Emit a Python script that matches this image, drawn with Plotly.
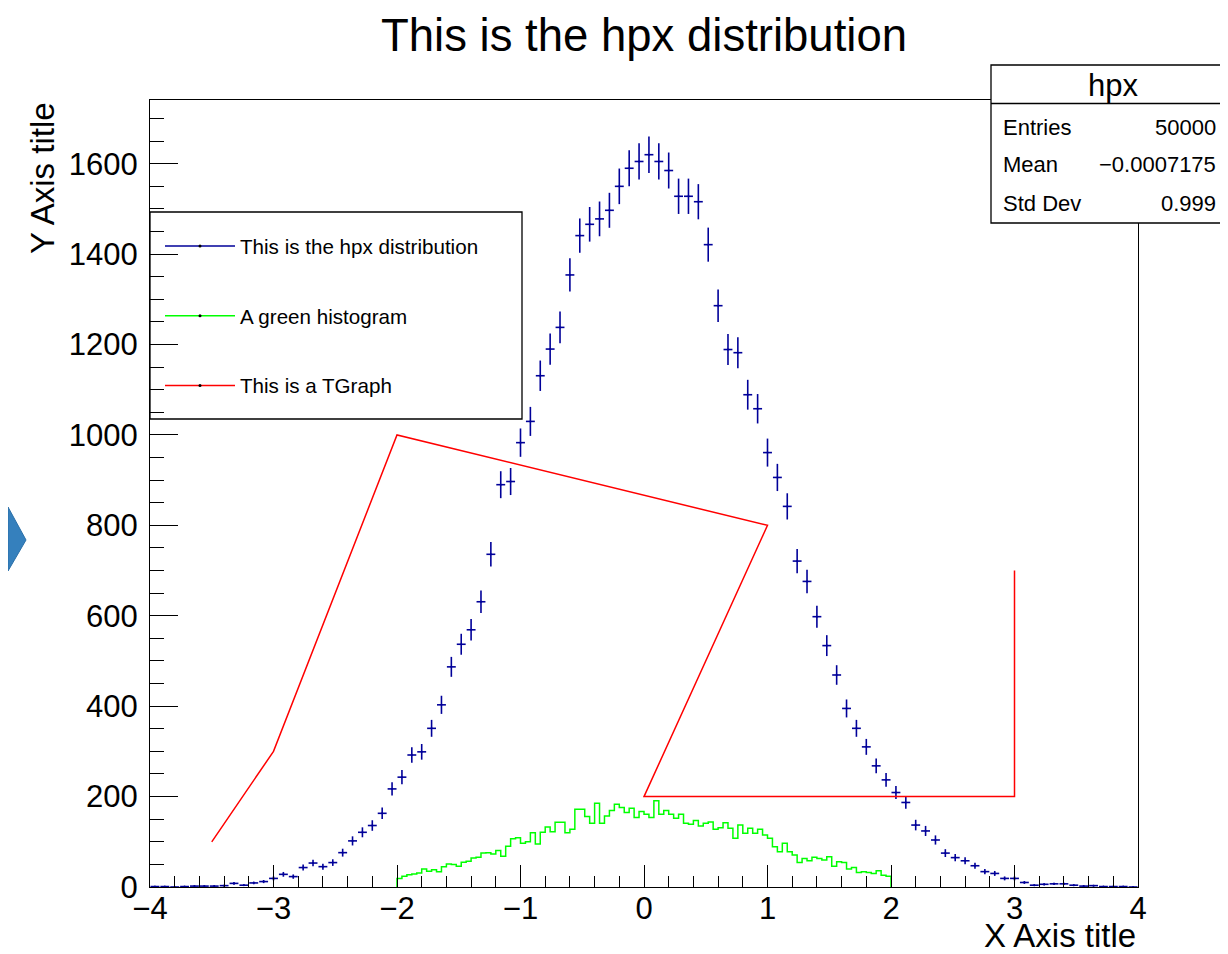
import numpy as np
import plotly.graph_objects as go

# ---------------- data ----------------
hpx_nbins = 100
hpx_xmin, hpx_xmax = -4.0, 4.0
hpx_counts = [
    1, 1, 0, 1, 2, 2, 2, 3,
    8, 4, 9, 12, 19, 28, 23,
    43, 53, 45, 54, 76, 102, 121, 136, 163, 217, 243,
    292, 299, 351, 403, 487, 537, 569, 631, 736, 890, 897, 983, 1030,
    1131, 1190, 1238, 1354, 1441, 1466, 1478, 1497, 1550, 1590, 1605, 1620, 1605, 1585, 1528, 1528, 1516, 1421, 1286, 1189,
    1182, 1089, 1058, 961, 906, 842, 721, 676, 598, 534, 469,
    395, 351, 310, 268, 237, 209, 187, 137, 124, 104, 75, 65, 58, 47, 34,
    30, 19, 19, 10, 4, 6, 7, 7, 4, 2, 3, 1, 1, 1, 0,
]

green_nbins = 100
green_xmin, green_xmax = -2.0, 2.0
green_counts = [
    19, 24, 27, 29, 31, 40, 35, 38, 34, 45,
    51, 50, 46, 55, 57, 64, 66, 75, 76, 73,
    81, 68, 90, 107, 109, 97, 100, 120, 95, 121,
    133, 122, 143, 143, 120, 128, 172, 172, 156, 141,
    185, 141, 157, 169, 183, 176, 165, 174, 154, 167,
    161, 154, 191, 161, 169, 161, 152, 161, 141, 139,
    147, 135, 141, 144, 128, 131, 142, 130, 108, 137,
    119, 130, 119, 128, 115, 108, 89, 78, 97, 78,
    71, 54, 63, 58, 66, 63, 60, 67, 46, 56,
    54, 40, 43, 32, 34, 32, 30, 36, 26, 24,
]

graph_x = [-3.5, -3.0, -2.0, 1.0, 0.0, 3.0, 3.0]
graph_y = [100, 300, 1000, 800, 200, 200, 700]

legend_labels = ["This is the hpx distribution", "A green histogram", "This is a TGraph"]
chart_title = "This is the hpx distribution"
x_title = "X Axis title"
y_title = "Y Axis title"

stats_title = "hpx"
stats_names = ["Entries", "Mean", "Std Dev"]
stats_values = ["50000", "\u22120.0007175", "0.999"]

x_tickvals = [-4, -3, -2, -1, 0, 1, 2, 3, 4]
y_tickvals = [0, 200, 400, 600, 800, 1000, 1200, 1400, 1600]

# ---------------- styles ----------------
FONT = "Liberation Sans, Arial, Helvetica, sans-serif"
C_HPX = "#000099"
C_GREEN = "#00ff00"
C_RED = "#ff0000"

OFF = 8  # page body margin
W, H = 1220, 946
ML, MT = 150 - OFF, 100 - OFF
PW, PH = 988, 787
MR = W - ML - PW
MB = H - MT - PH


def px(x):
    # picture pixel x -> paper
    return (x - OFF - ML) / PW


def py(y):
    # picture pixel y -> paper
    return (MT + PH - (y - OFF)) / PH


# derived histogram geometry
hpx_bw = (hpx_xmax - hpx_xmin) / hpx_nbins
hpx_centers = hpx_xmin + hpx_bw * (np.arange(hpx_nbins) + 0.5)
hpx_arr = np.array(hpx_counts, dtype=float)
hpx_err = np.sqrt(hpx_arr)

g_bw = (green_xmax - green_xmin) / green_nbins
g_edges = green_xmin + g_bw * np.arange(green_nbins + 1)
g_vals = np.array(green_counts, dtype=float)
step_x = np.concatenate([[green_xmin], g_edges[:-1], [green_xmax, green_xmax]])
step_y = np.concatenate([[0.0], g_vals, [g_vals[-1], 0.0]])

fig = go.Figure()

fig.add_trace(go.Scatter(
    x=hpx_centers, y=hpx_arr, mode="markers",
    marker=dict(color=C_HPX, size=2),
    error_y=dict(type="data", array=hpx_err, visible=True, color=C_HPX, thickness=1.6, width=0),
    error_x=dict(type="constant", value=hpx_bw * 0.45, visible=True, color=C_HPX, thickness=1.6, width=0),
    showlegend=False, hoverinfo="x+y",
))

fig.add_trace(go.Scatter(
    x=step_x, y=step_y, mode="lines", line=dict(color=C_GREEN, width=1.5, shape="hv"),
    showlegend=False,
))

fig.add_trace(go.Scatter(
    x=graph_x, y=graph_y, mode="lines", line=dict(color=C_RED, width=1.5),
    showlegend=False,
))

# legend entries
for i, (lab, col) in enumerate(zip(legend_labels, [C_HPX, C_GREEN, C_RED])):
    fig.add_trace(go.Scatter(
        x=[None], y=[None], mode="lines+markers", name=lab,
        line=dict(color=col, width=1.5),
        marker=dict(color="black", size=3),
        legendgroup=f"g{i}", showlegend=True,
    ))

shapes = []
# legend box
shapes.append(dict(type="rect", xref="paper", yref="paper",
                   x0=px(150), x1=px(522), y0=py(419), y1=py(212),
                   line=dict(color="black", width=1.3), fillcolor="white", layer="below"))
# stats box
shapes.append(dict(type="rect", xref="paper", yref="paper",
                   x0=px(991), x1=px(1245), y0=py(223), y1=py(65),
                   line=dict(color="black", width=1.3), fillcolor="white", layer="above"))
shapes.append(dict(type="line", xref="paper", yref="paper",
                   x0=px(991), x1=px(1245), y0=py(103.5), y1=py(103.5),
                   line=dict(color="black", width=1.3), layer="above"))
# decorative arrow at left edge
shapes.append(dict(type="path", xref="paper", yref="paper",
                   path=f"M {px(8)} {py(507)} L {px(26)} {py(540)} L {px(8)} {py(571)} Z",
                   fillcolor="#3580bd", line=dict(color="#2a6fa8", width=1), layer="above"))

annotations = []
annotations.append(dict(text=stats_title, xref="paper", yref="paper", x=px(1113), y=py(85),
                        xanchor="center", yanchor="middle", showarrow=False,
                        font=dict(size=31, family=FONT, color="black")))
row_y = [127, 165, 203]
for name, val, yy in zip(stats_names, stats_values, row_y):
    annotations.append(dict(text=name, xref="paper", yref="paper", x=px(1001), y=py(yy),
                            xanchor="left", yanchor="middle", showarrow=False,
                            font=dict(size=22, family=FONT, color="black")))
    annotations.append(dict(text=val, xref="paper", yref="paper", x=px(1218), y=py(yy),
                            xanchor="right", yanchor="middle", showarrow=False,
                            font=dict(size=22, family=FONT, color="black")))
annotations.append(dict(text=x_title, xref="paper", yref="paper", x=1.0, y=py(936),
                        xanchor="right", yanchor="middle", showarrow=False,
                        font=dict(size=33, family=FONT, color="black")))
annotations.append(dict(text=y_title, xref="paper", yref="paper", x=px(42), y=1.0,
                        xanchor="center", yanchor="top", textangle=-90, showarrow=False,
                        font=dict(size=33, family=FONT, color="black")))

fig.update_layout(
    width=W, height=H,
    margin=dict(l=ML, r=MR, t=MT, b=MB, autoexpand=False),
    paper_bgcolor="white", plot_bgcolor="white",
    font=dict(family=FONT, color="black"),
    title=dict(text=chart_title, x=0.5, xref="paper", y=1 - (35 - OFF) / H, yref="container",
               xanchor="center", yanchor="middle", font=dict(size=45.5, family=FONT, color="black")),
    showlegend=True,
    legend=dict(x=px(160), y=py(226), xanchor="left", yanchor="top",
                bgcolor="rgba(0,0,0,0)", borderwidth=0,
                font=dict(size=20.6, family=FONT, color="black"),
                tracegroupgap=40, itemwidth=70, traceorder="grouped"),
    shapes=shapes, annotations=annotations,
)

fig.update_xaxes(
    range=[hpx_xmin, hpx_xmax], showgrid=False, zeroline=False,
    showline=True, linecolor="black", linewidth=1.3, mirror=True,
    ticks="inside", ticklen=22, tickwidth=1.3, tickcolor="black",
    tickvals=x_tickvals, ticklabelstandoff=-6,
    tickfont=dict(size=31, family=FONT, color="black"),
    minor=dict(ticks="inside", ticklen=11, dtick=0.2, tickwidth=1.2, tickcolor="black", showgrid=False),
)
fig.update_yaxes(
    range=[0, 1741], showgrid=False, zeroline=False,
    showline=True, linecolor="black", linewidth=1.3, mirror=True,
    ticks="inside", ticklen=28, tickwidth=1.3, tickcolor="black",
    tickvals=y_tickvals, ticklabelstandoff=5,
    tickfont=dict(size=31, family=FONT, color="black"),
    minor=dict(ticks="inside", ticklen=14, dtick=50, tickwidth=1.2, tickcolor="black", showgrid=False),
)

fig.write_html("out.html")
